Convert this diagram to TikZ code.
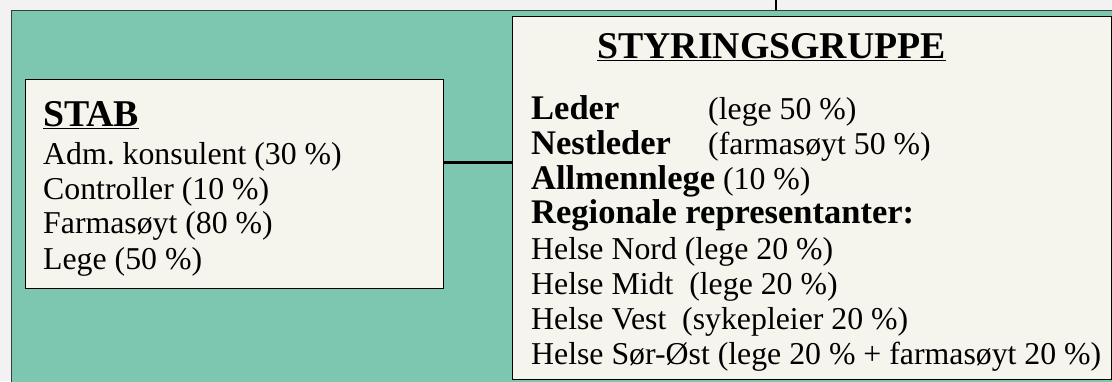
\documentclass[tikz,border=0pt]{standalone}
\usepackage{fontspec}
\setmainfont{Liberation Serif}
\definecolor{pagebg}{RGB}{242,242,242}
\definecolor{tealbg}{RGB}{125,198,176}
\definecolor{cream}{RGB}{246,245,237}
\definecolor{edgegray}{RGB}{60,60,60}
\newcommand\reg{\fontsize{31.8}{35}\selectfont}
\newcommand\lbl{\fontsize{34.5}{35}\selectfont\bfseries}
\newcommand\ttl{\fontsize{37.8}{40}\selectfont\bfseries}
\newcommand\ul[1]{\underline{#1}}
\frenchspacing
\begin{document}
\begin{tikzpicture}[x=1pt,y=-1pt,
  panel/.style={draw=edgegray, line width=1.5pt, fill=tealbg, anchor=north west, inner sep=0pt},
  boxnode/.style={draw=black, line width=1.3pt, fill=cream, anchor=north west, inner sep=0pt},
  txt/.style={anchor=base west, inner sep=0pt, font=\reg},
  lbltxt/.style={anchor=base west, inner sep=0pt, font=\lbl},
  ttltxt/.style={anchor=base west, inner sep=0pt, font=\ttl},
  link/.style={draw=black, line width=2.8pt}]
\useasboundingbox (0,0) rectangle (1112,381);
\fill[pagebg] (0,0) rectangle (1112,381);
\node[panel, minimum width=1120pt, minimum height=390pt] (bg) at (10.5,9.5) {};
\coordinate (topin) at (776,0);
\draw[link] (topin) -- (topin |- bg.north);
\node[boxnode, minimum width=418pt, minimum height=209pt] (stab) at (25,79) {};
\node[boxnode, minimum width=599pt, minimum height=363pt] (styr) at (512,16) {};
\coordinate (linky) at (0,162.5);
\draw[link] (stab.east |- linky) -- (styr.west |- linky);
% STAB text
\node[ttltxt] (stabt) at (43,126) {\ul{STAB}};
\node[txt] (s1) at (43,164) {Adm. konsulent (30 \%)};
\node[txt] (s2) at (43,199) {Controller (10 \%)};
\node[txt] (s3) at (43,233) {Farmasøyt (80 \%)};
\node[txt] (s4) at (43,269) {Lege (50 \%)};
% STYRINGSGRUPPE text
\node[ttltxt] (styrt) at (597,58) {\ul{STYRINGSGRUPPE}};
\node[lbltxt] (g1a) at (531,119) {Leder};
\node[txt] (g1b) at (708,119) {(lege 50 \%)};
\node[lbltxt] (g2a) at (531,154) {Nestleder};
\node[txt] (g2b) at (708,154) {(farmasøyt 50 \%)};
\node[txt] (g3) at (531,189) {{\lbl Allmennlege} (10 \%)};
\node[lbltxt] (g4) at (531,223) {Regionale representanter:};
\node[txt] (g5) at (531,259) {Helse Nord (lege 20 \%)};
\node[txt] (g6) at (531,294) {Helse Midt\ \ (lege 20 \%)};
\node[txt] (g7) at (531,329) {Helse Vest\ \ (sykepleier 20 \%)};
\node[txt] (g8) at (531,364) {Helse Sør-Øst (lege 20 \% + farmasøyt 20 \%)};
\end{tikzpicture}
\end{document}
